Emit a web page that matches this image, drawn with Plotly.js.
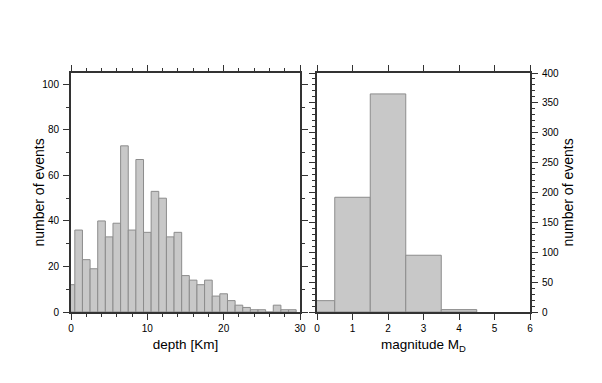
<!DOCTYPE html>
<html>
<head>
<meta charset="utf-8">
<script src="https://cdn.plot.ly/plotly-3.0.1.min.js"></script>
<style>html,body{margin:0;padding:0;background:#fff}#chart{width:602px;height:383px}</style>
</head>
<body>
<div id="chart"></div>
<script>
// depth histogram (1 km bins centred on integer km)
const depthBins = [0,1,2,3,4,5,6,7,8,9,10,11,12,13,14,15,16,17,18,19,20,21,22,23,24,25,26,27,28,29];
const depthCounts = [12,36,23,19,40,33,39,73,36,67,35,53,50,33,35,16,14,12,14,7,8,5,3,2,1,1,0,3,1,1];
// magnitude histogram (1-unit bins centred on integers)
const magBins = [0,1,2,3,4];
const magCounts = [19,192,365,95,4];

const depthTicks = [0,10,20,30];
const magTicks = [0,1,2,3,4,5,6];

const fillC = '#c8c8c8', edgeC = '#8c8c8c';
const FONT = 'Liberation Sans, Arial, Helvetica, sans-serif';
const W = 602, H = 383;

const traces = [
  {type:'bar', x:depthBins, y:depthCounts, width:1, xaxis:'x', yaxis:'y',
   marker:{color:fillC, line:{color:edgeC, width:1}}, hoverinfo:'skip'},
  {type:'bar', x:magBins, y:magCounts, width:1, xaxis:'x2', yaxis:'y2',
   marker:{color:fillC, line:{color:edgeC, width:1}}, hoverinfo:'skip'}
];

const axBase = {
  showline:true, linewidth:2, linecolor:'#333', mirror:'ticks',
  ticks:'outside', ticklen:6, tickwidth:1, tickcolor:'#333',
  showgrid:false, zeroline:false, fixedrange:true,
  tickfont:{family:FONT, size:10, color:'#000'}
};
const minorY = {ticklen:3, ticks:'outside', tickcolor:'#333'};

const layout = {
  width:W, height:H,
  margin:{l:0, r:0, t:0, b:0},
  paper_bgcolor:'#fff', plot_bgcolor:'#fff',
  showlegend:false, bargap:0,
  font:{family:FONT, color:'#000'},
  xaxis:Object.assign({}, axBase, {
    domain:[71/W, 300/W], range:[0,30], anchor:'y',
    tickmode:'array', tickvals:depthTicks,
    minor:{dtick:2, ticklen:3, ticks:'outside', tickcolor:'#333'},
    title:{text:'depth [Km]', font:{family:FONT, size:13.5}, standoff:7}
  }),
  yaxis:Object.assign({}, axBase, {
    domain:[(H-312)/H, (H-73)/H], range:[0,105], anchor:'x',
    dtick:20, minor:Object.assign({dtick:10}, minorY), ticklabelstandoff:2
  }),
  xaxis2:Object.assign({}, axBase, {
    domain:[317/W, 530/W], range:[0,6], anchor:'y2',
    tickmode:'array', tickvals:magTicks,
    title:{text:'magnitude M<sub>D</sub>', font:{family:FONT, size:13.5}, standoff:7}
  }),
  yaxis2:Object.assign({}, axBase, {
    domain:[(H-312)/H, (H-73)/H], range:[0,400], anchor:'x2', side:'right',
    dtick:50, minor:Object.assign({dtick:10}, minorY), ticklabelstandoff:2
  }),
  annotations:[
    {text:'number of events', xref:'paper', yref:'paper', x:38/W, y:1-192.5/H,
     xanchor:'center', yanchor:'middle', textangle:-90, showarrow:false,
     font:{family:FONT, size:14, color:'#000'}},
    {text:'number of events', xref:'paper', yref:'paper', x:567/W, y:1-192.5/H,
     xanchor:'center', yanchor:'middle', textangle:-90, showarrow:false,
     font:{family:FONT, size:14, color:'#000'}}
  ]
};

Plotly.newPlot('chart', traces, layout, {staticPlot:true, displayModeBar:false});
</script>
</body>
</html>
